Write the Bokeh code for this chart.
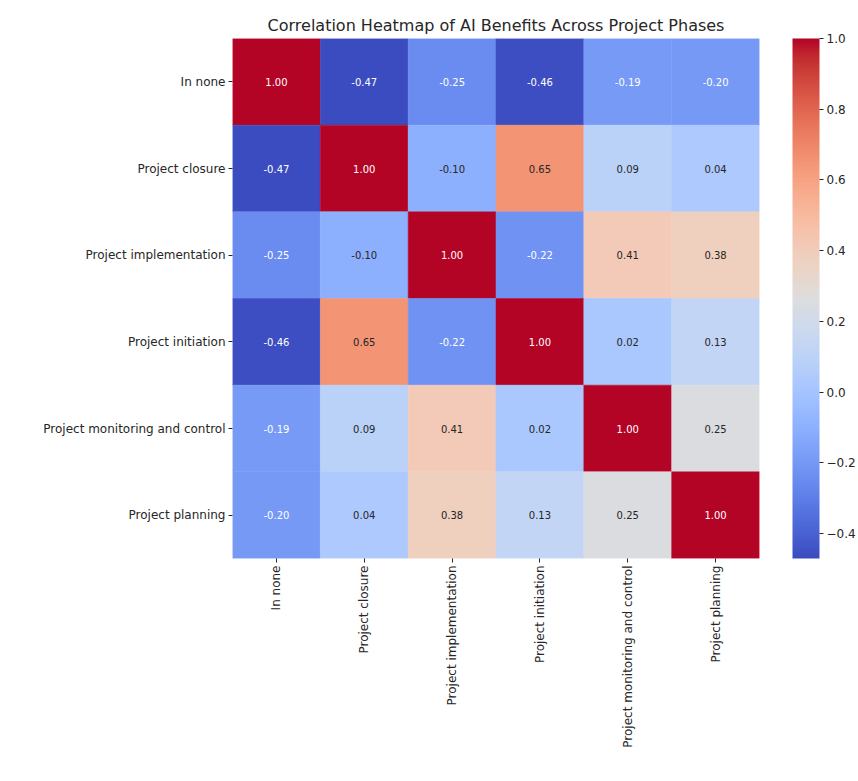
import math
import numpy as np
from bokeh.plotting import figure
from bokeh.models import (ColumnDataSource, LinearColorMapper, ColorBar, FixedTicker,
                          CustomJSTickFormatter)
from bokeh.core.properties import value
from bokeh.embed import file_html
from bokeh.resources import INLINE

# ---------------- data ----------------
phases = ["In none", "Project closure", "Project implementation", "Project initiation",
          "Project monitoring and control", "Project planning"]
row_in_none = [1.00, -0.47, -0.25, -0.46, -0.19, -0.20]
row_closure = [-0.47, 1.00, -0.10, 0.65, 0.09, 0.04]
row_implementation = [-0.25, -0.10, 1.00, -0.22, 0.41, 0.38]
row_initiation = [-0.46, 0.65, -0.22, 1.00, 0.02, 0.13]
row_monitoring = [-0.19, 0.09, 0.41, 0.02, 1.00, 0.25]
row_planning = [-0.20, 0.04, 0.38, 0.13, 0.25, 1.00]
colorbar_ticks = [-0.4, -0.2, 0.0, 0.2, 0.4, 0.6, 0.8, 1.0]
title_text = "Correlation Heatmap of AI Benefits Across Project Phases"

rows = [row_in_none, row_closure, row_implementation, row_initiation, row_monitoring, row_planning]

# ---------------- coolwarm colormap ----------------
_cw = [(59, 76, 192), (68, 90, 204), (77, 104, 215), (87, 117, 225), (98, 130, 234),
       (108, 142, 241), (119, 154, 247), (130, 165, 251), (141, 176, 254), (152, 185, 255),
       (163, 194, 255), (174, 201, 253), (184, 208, 249), (194, 213, 244), (204, 217, 238),
       (213, 219, 230), (221, 221, 221), (229, 216, 209), (236, 211, 197), (241, 204, 185),
       (245, 196, 173), (247, 187, 160), (247, 177, 148), (247, 166, 135), (244, 154, 123),
       (241, 141, 111), (236, 127, 99), (229, 112, 88), (222, 96, 77), (213, 80, 66),
       (203, 62, 56), (192, 40, 47), (180, 4, 38)]
_cw = np.array(_cw, dtype=float)
_pos = np.linspace(0, 1, len(_cw))


def cw(t):
    return [np.interp(t, _pos, _cw[:, k]) for k in range(3)]


palette = []
for t in np.linspace(0, 1, 256):
    r, g, b = cw(t)
    palette.append("#%02x%02x%02x" % (int(round(r)), int(round(g)), int(round(b))))

all_vals = [v for r in rows for v in r]
vmin, vmax = min(all_vals), max(all_vals)
mapper = LinearColorMapper(palette=palette, low=vmin, high=vmax)


def text_color(v):
    t = (v - vmin) / (vmax - vmin)
    rgb = np.array(cw(t)) / 255.0
    lin = np.where(rgb <= 0.03928, rgb / 12.92, ((rgb + 0.055) / 1.055) ** 2.4)
    lum = 0.2126 * lin[0] + 0.7152 * lin[1] + 0.0722 * lin[2]
    return "#262626" if lum > 0.408 else "#ffffff"


xs, ys, vs, labels, tcols = [], [], [], [], []
for i, r in enumerate(rows):
    for j, v in enumerate(r):
        xs.append(phases[j])
        ys.append(phases[i])
        vs.append(v)
        labels.append("%.2f" % v)
        tcols.append(text_color(v))

src = ColumnDataSource(dict(x=xs, y=ys, v=vs, label=labels, tcol=tcols))

# ---------------- figure ----------------
p = figure(width=858, height=781, x_range=phases, y_range=list(reversed(phases)),
           output_backend="svg", toolbar_location=None,
           min_border_left=232, min_border_right=99, min_border_top=38, min_border_bottom=223)
p.title.text = title_text
p.title.align = "center"
p.title.text_font = "DejaVu Sans"
p.title.text_font_size = "16px"
p.title.text_font_style = "normal"
p.title.text_color = "#262626"
p.title.offset = 0
p.title.standoff = 8

p.rect(x="x", y="y", width=1, height=1, source=src,
       fill_color={"field": "v", "transform": mapper},
       line_color={"field": "v", "transform": mapper}, line_width=0.5)
p.text(x="x", y="y", text="label", source=src, text_color="tcol",
       text_align="center", text_baseline="middle",
       text_font=value("DejaVu Sans"), text_font_size="10px")

p.grid.visible = False
p.outline_line_color = None
for ax in (p.xaxis[0], p.yaxis[0]):
    ax.axis_line_color = None
    ax.major_tick_in = 0
    ax.major_tick_out = 4
    ax.major_tick_line_color = "#262626"
    ax.minor_tick_line_color = None
    ax.major_label_text_font = "DejaVu Sans"
    ax.major_label_text_font_size = "12px"
    ax.major_label_text_color = "#262626"
    ax.major_label_standoff = 3
p.xaxis.major_label_orientation = math.pi / 2

cb = ColorBar(color_mapper=mapper, ticker=FixedTicker(ticks=colorbar_ticks),
              formatter=CustomJSTickFormatter(
                  code="return (tick < -1e-9 ? '\\u2212' : '') + Math.abs(tick).toFixed(1);"),
              width=27, height=520, padding=0, margin=0, location=(33, 0),
              major_label_text_font="DejaVu Sans", major_label_text_font_size="12px",
              major_label_text_color="#262626",
              major_tick_in=0, major_tick_out=4, major_tick_line_color="#262626",
              minor_tick_line_color=None, bar_line_color=None,
              border_line_color=None, background_fill_color=None, label_standoff=3)
p.add_layout(cb, "right")

open("out.html", "w").write(file_html(p, INLINE))
